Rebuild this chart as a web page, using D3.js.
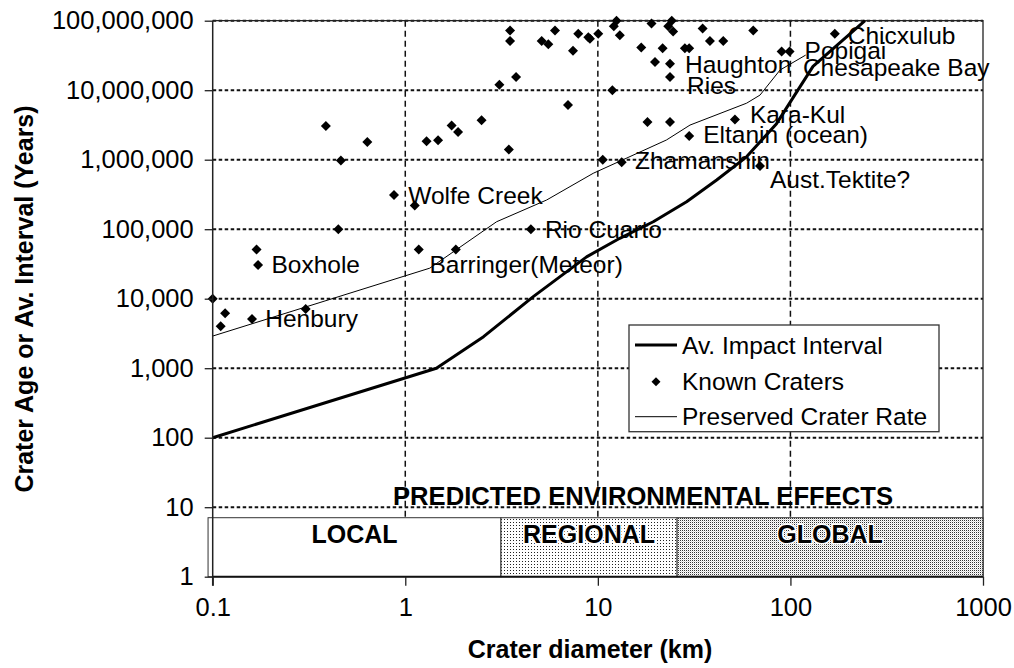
<!DOCTYPE html>
<html><head><meta charset="utf-8">
<script src="https://cdn.jsdelivr.net/npm/d3@7/dist/d3.min.js"></script>
<style>
html,body{margin:0;padding:0;background:#fff;}
svg{display:block;font-family:"Liberation Sans",Arial,sans-serif;}
</style></head>
<body><svg id="c" width="1014" height="668"></svg>
<script>
// ---------- data ----------
const xTicks = [0.1, 1, 10, 100, 1000];
const yTicks = [1, 10, 100, 1000, 1e4, 1e5, 1e6, 1e7, 1e8];

// Known craters: diameter (km), age (years)
const craterDiam = [0.1, 0.11, 0.116, 0.16, 0.169, 0.172, 0.304, 0.387, 0.449, 0.463, 0.635, 0.874, 1.12, 1.175, 1.29, 1.48, 1.74, 1.88, 1.83, 2.49,
  3.08, 3.45, 3.5, 3.5, 3.76, 4.49, 5.11, 5.53, 5.99, 7.0, 7.43, 7.91, 8.92, 9.1, 10.05, 10.6, 11.9, 12.5, 12.1, 13.0,
  13.3, 16.8, 18.1, 19.0, 19.8, 21.7, 23.2, 24.2, 24.6, 23.7, 23.7, 23.7, 28.3, 29.8, 29.8, 35.0, 38.2, 44.8, 51.5, 64.1,
  69.5, 90, 99, 170];
const craterAge = [1.0e4, 4.0e3, 6.2e3, 5.1e3, 5.1e4, 3.05e4, 7.1e3, 3.05e6, 1.0e5, 9.7e5, 1.8e6, 3.1e5, 2.2e5, 5.1e4, 1.85e6, 1.9e6, 3.1e6, 2.5e6, 5.1e4, 3.7e6,
  1.2e7, 1.4e6, 7.2e7, 5.1e7, 1.55e7, 1.0e5, 5.1e7, 4.6e7, 7.2e7, 6.1e6, 3.7e7, 6.5e7, 5.8e7, 5.5e7, 6.5e7, 1.0e6, 1.0e7, 1.0e8, 8.3e7, 6.2e7,
  9.2e5, 4.1e7, 3.5e6, 9.1e7, 2.55e7, 4.0e7, 8.3e7, 1.0e8, 7.0e7, 2.4e7, 1.55e7, 3.5e6, 4.0e7, 4.0e7, 2.2e6, 7.7e7, 5.1e7, 5.1e7, 3.8e6, 7.2e7,
  8.1e5, 3.6e7, 3.6e7, 6.5e7];

// Named craters
const labelNames = ["Chicxulub", "Popigai", "Chesapeake Bay", "Haughton", "Ries", "Kara-Kul", "Eltanin (ocean)", "Zhamanshin",
  "Aust.Tektite?", "Wolfe Creek", "Rio Cuarto", "Boxhole", "Barringer(Meteor)", "Henbury"];
const labelDiam = [170, 99, 90, 23.7, 23.7, 51.5, 29.8, 13.3, 69.5, 0.874, 4.49, 0.172, 1.175, 0.16];
const labelAge = [6.5e7, 3.6e7, 3.6e7, 2.4e7, 1.55e7, 3.8e6, 2.2e6, 9.2e5, 8.1e5, 3.1e5, 1.0e5, 3.05e4, 5.1e4, 5.1e3];

// Av. Impact Interval
const impactDiam = [0.1, 1.45, 2.55, 4.62, 8.74, 13.0, 19.4, 28.9, 41.4, 59.2, 84.7, 131, 244];
const impactInterval = [100, 1000, 2840, 1.07e4, 4.0e4, 7.4e4, 1.28e5, 2.49e5, 5.1e5, 1.1e6, 3.3e6, 2.2e7, 1.0e8];

// Preserved Crater Rate
const preservedDiam = [0.1, 1.34, 2.98, 5.42, 9.46, 22.7, 30.1, 59.2, 69.5, 88.3, 120];
const preservedRate = [2.9e3, 2.75e4, 1.28e5, 2.63e5, 6.37e5, 1.92e6, 3.15e6, 6.5e6, 8.5e6, 1.95e7, 3.2e7];

// Predicted environmental effects zones
const zoneNames = ["LOCAL", "REGIONAL", "GLOBAL"];
const zoneBounds = [0.0946, 3.14, 25.8, 1000];
const zoneTop = 7.06;

const legendNames = ["Av. Impact Interval", "Known Craters", "Preserved Crater Rate"];

// ---------- layout ----------
const svg = d3.select("#c");
const X0 = 212.7, X1 = 983, Y0 = 576.7, Y1 = 20.7;
const x = d3.scaleLog().domain([0.1, 1000]).range([X0, X1]);
const y = d3.scaleLog().domain([1, 1e8]).range([Y0, Y1]);
const FS = 24.5, FSB = 25, FST = 25.5;

// patterns
const defs = svg.append("defs");
const p1 = defs.append("pattern").attr("id", "reg").attr("width", 3).attr("height", 3).attr("patternUnits", "userSpaceOnUse");
p1.append("rect").attr("width", 3).attr("height", 3).attr("fill", "#fff");
p1.append("rect").attr("width", 1).attr("height", 1).attr("fill", "#222");
const p2 = defs.append("pattern").attr("id", "glob").attr("width", 2).attr("height", 2).attr("patternUnits", "userSpaceOnUse");
p2.append("rect").attr("width", 2).attr("height", 2).attr("fill", "#fff");
p2.append("rect").attr("width", 1).attr("height", 1).attr("fill", "#333");
p2.append("rect").attr("x", 1).attr("y", 1).attr("width", 1).attr("height", 1).attr("fill", "#d8d8d8");

// gridlines
const g = svg.append("g");
g.selectAll(".hg").data(yTicks.slice(1)).enter().append("line")
  .attr("x1", X0).attr("x2", X1).attr("y1", d => y(d)).attr("y2", d => y(d))
  .attr("stroke", "#111").attr("stroke-width", 2).attr("stroke-dasharray", "3.5,2.5");
g.selectAll(".vg").data(xTicks.slice(1, 4)).enter().append("line")
  .attr("x1", d => x(d)).attr("x2", d => x(d)).attr("y1", Y1).attr("y2", Y0)
  .attr("stroke", "#111").attr("stroke-width", 1.5).attr("stroke-dasharray", "6,4");
// frame
svg.append("path").attr("d", `M${X0},${Y1}H${X1}V${Y0}`).attr("fill", "none").attr("stroke", "#222").attr("stroke-width", 1.3);

// environmental effects box
const zb = svg.append("g");
const fills = ["#fff", "url(#reg)", "url(#glob)"];
zoneNames.forEach((n, i) => {
  zb.append("rect").attr("x", x(zoneBounds[i])).attr("y", y(zoneTop))
    .attr("width", x(zoneBounds[i + 1]) - x(zoneBounds[i])).attr("height", y(1) - y(zoneTop))
    .attr("fill", fills[i]).attr("stroke", "#333").attr("stroke-width", 1);
  zb.append("text").attr("x", (x(zoneBounds[i]) + x(zoneBounds[i + 1])) / 2).attr("y", y(zoneTop) + 25)
    .attr("text-anchor", "middle").attr("font-size", FSB).attr("font-weight", "bold")
    .attr("stroke", i ? "#fff" : "none").attr("stroke-width", 3).attr("paint-order", "stroke")
    .text(n);
});
svg.append("text").attr("x", 393).attr("y", 505).attr("font-size", FSB).attr("font-weight", "bold")
  .attr("textLength", 500).attr("lengthAdjust", "spacingAndGlyphs")
  .text("PREDICTED ENVIRONMENTAL EFFECTS");

// lines
const line = d3.line().x(d => x(d[0])).y(d => y(d[1]));
svg.append("path").datum(preservedDiam.map((d, i) => [d, preservedRate[i]]))
  .attr("d", line).attr("fill", "none").attr("stroke", "#000").attr("stroke-width", 1);
svg.append("path").datum(impactDiam.map((d, i) => [d, impactInterval[i]]))
  .attr("d", line).attr("fill", "none").attr("stroke", "#000").attr("stroke-width", 3).attr("stroke-linejoin", "round");

// points
const sym = d3.symbol().type(d3.symbolSquare).size(50);
svg.append("g").selectAll("path").data(craterDiam.map((d, i) => [d, craterAge[i]])).enter().append("path")
  .attr("d", sym).attr("transform", d => `translate(${x(d[0])},${y(d[1])}) rotate(45)`).attr("fill", "#000");

// labels (offsets are layout only)
const off = {
  "Chicxulub": [13, 10.4], "Popigai": [15, 7.7], "Chesapeake Bay": [21.3, 24.3], "Haughton": [15, 9.3], "Ries": [17, 17.2],
  "Kara-Kul": [15, 3.4], "Eltanin (ocean)": [14, 7.3], "Zhamanshin": [13.3, 7], "Aust.Tektite?": [10, 22.3], "Wolfe Creek": [14.3, 8.7],
  "Rio Cuarto": [14, 8.5], "Boxhole": [13.4, 8.3], "Barringer(Meteor)": [10.7, 23.7], "Henbury": [13.3, 8]
};
svg.append("g").selectAll("text").data(labelNames).enter().append("text")
  .attr("x", (d, i) => x(labelDiam[i]) + off[d][0]).attr("y", (d, i) => y(labelAge[i]) + off[d][1])
  .attr("font-size", FS).text(d => d);

// legend
const lg = svg.append("g");
lg.append("rect").attr("x", 629).attr("y", 325).attr("width", 310).attr("height", 106.7)
  .attr("fill", "#fff").attr("stroke", "#333").attr("stroke-width", 1.3);
const ly = [345, 381.7, 416.7];
legendNames.forEach((n, i) => {
  if (i === 1) {
    lg.append("path").attr("d", d3.symbol().type(d3.symbolSquare).size(40)).attr("transform", `translate(656,${ly[i]}) rotate(45)`).attr("fill", "#000");
  } else {
    lg.append("line").attr("x1", 635).attr("x2", 677).attr("y1", ly[i]).attr("y2", ly[i])
      .attr("stroke", "#000").attr("stroke-width", i === 0 ? 3 : 1);
  }
  lg.append("text").attr("x", 682).attr("y", ly[i] + 8.7).attr("font-size", FS).text(n);
});

// axes
const fmt = d3.format(",");
const ya = svg.append("g").attr("transform", `translate(${X0},0)`)
  .call(d3.axisLeft(y).tickValues(yTicks).tickFormat(fmt).tickSize(8).tickPadding(11));
ya.select(".domain").attr("stroke", "#222").attr("stroke-width", 1.5).attr("d", `M-0,${Y1}V${Y0 + 9}`);
ya.selectAll("text").attr("font-size", FST).attr("font-family", null).attr("fill", "#000");
ya.selectAll(".tick line").attr("stroke", "#222").attr("stroke-width", 1.3);

const xa = svg.append("g").attr("transform", `translate(0,${Y0})`)
  .call(d3.axisBottom(x).tickValues(xTicks).tickFormat(d => String(d)).tickSize(9).tickPadding(12));
xa.select(".domain").attr("stroke", "#111").attr("stroke-width", 2).attr("d", `M${X0},0H${X1}`);
xa.selectAll("text").attr("font-size", FST).attr("font-family", null).attr("fill", "#000");
xa.selectAll(".tick line").attr("stroke", "#222").attr("stroke-width", 1.3);

svg.append("text").attr("x", 590).attr("y", 658).attr("text-anchor", "middle")
  .attr("font-size", FSB).attr("font-weight", "bold").text("Crater diameter (km)");
svg.append("text").attr("transform", "translate(33,299) rotate(-90)").attr("text-anchor", "middle")
  .attr("font-size", FSB).attr("font-weight", "bold").text("Crater Age or Av. Interval (Years)");
</script></body></html>
